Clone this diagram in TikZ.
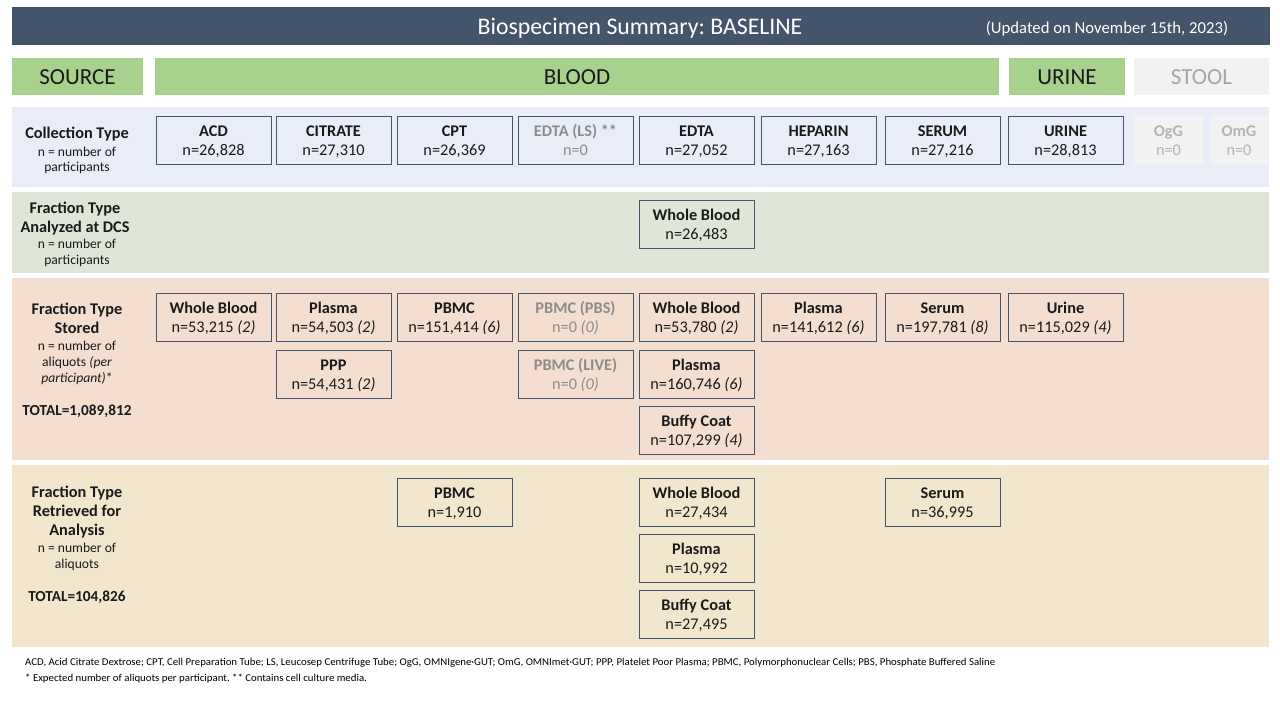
\documentclass[tikz,border=0pt]{standalone}
\usepackage{fontspec}
\setmainfont{Carlito}
\frenchspacing
\definecolor{slate}{HTML}{44546A}
\definecolor{hgreen}{HTML}{A9D18E}
\definecolor{stoolbg}{HTML}{F2F2F2}
\definecolor{stooltxt}{HTML}{A6A6A6}
\definecolor{rowA}{HTML}{E9EDF7}
\definecolor{rowB}{HTML}{DFE6D8}
\definecolor{rowC}{HTML}{F4DED0}
\definecolor{rowD}{HTML}{F2E7CC}
\definecolor{txtgray}{HTML}{8C8C8C}
\definecolor{ltgray}{HTML}{B4B4B4}
\definecolor{ink}{HTML}{1A1A1A}
\newsavebox\footA
\newsavebox\footB
\newlength\footW
\newcommand\bx[2]{\rule{0pt}{15pt}\textbf{#1}\\#2\rule[-4pt]{0pt}{4pt}}
\begin{document}
\frenchspacing
\sbox\footA{\fontsize{10.5}{12}\selectfont ACD, Acid Citrate Dextrose; CPT, Cell Preparation Tube; LS, Leucosep Centrifuge Tube; OgG, OMNIgene·GUT; OmG, OMNImet·GUT; PPP, Platelet Poor Plasma; PBMC, Polymorphonuclear Cells; PBS, Phosphate Buffered Saline}%
\sbox\footB{\fontsize{10.5}{12}\selectfont * Expected number of aliquots per participant. ** Contains cell culture media.}%
\setlength\footW{\wd\footA}%
\begin{tikzpicture}[x=1pt,y=-1pt,
  band/.style={draw=none,inner sep=0pt,outer sep=0pt},
  hdr/.style={fill=hgreen,inner sep=0pt,font=\fontsize{23}{26}\selectfont,text=ink,text height=18pt,text depth=1.4pt},
  cbox/.style={draw=slate,line width=0.9pt,minimum width=115pt,minimum height=48pt,align=center,inner sep=0pt,text=ink,font=\fontsize{16.3}{19}\selectfont},
  gbox/.style={cbox,text=txtgray},
  sbox/.style={fill=stoolbg,draw=none,minimum height=48pt,align=center,inner sep=0pt,text=ltgray,font=\fontsize{16.3}{19}\selectfont},
  lb/.style={anchor=mid,font=\bfseries\fontsize{16.3}{19}\selectfont,text=ink,inner sep=0pt},
  ls/.style={anchor=mid,font=\fontsize{13.6}{16}\selectfont,text=ink,inner sep=0pt},
  lt/.style={anchor=mid,font=\bfseries\fontsize{15.3}{18}\selectfont,text=ink,inner sep=0pt},
  foot/.style={anchor=west,inner sep=0pt,text=ink}
]
\useasboundingbox (0,0) rectangle (1280,720);
\fill[white] (0,0) rectangle (1280,720);

% title bar
\node[band,fill=slate,minimum width=1258pt,minimum height=38pt] (title) at (641,26) {};
\node[text=white,font=\fontsize{23.8}{27}\selectfont,inner sep=0pt] (titletxt) at (640,28) {Biospecimen Summary: BASELINE};
\node[text=white,font=\fontsize{16.7}{19}\selectfont,inner sep=0pt] (upd) at (1107,28.5) {(Updated on November 15th, 2023)};

% header row
\node[hdr,minimum width=131pt,minimum height=37pt] (src) at (77.5,76.5) {SOURCE};
\node[hdr,minimum width=844pt,minimum height=37pt] (blood) at (577,76.5) {BLOOD};
\node[hdr,minimum width=116pt,minimum height=37pt] (urine) at (1067,76.5) {URINE};
\node[hdr,fill=stoolbg,minimum width=135pt,minimum height=37pt,text=stooltxt] (stool) at (1201.5,76.5) {STOOL};

% bands
\node[band,fill=rowA,minimum width=1257pt,minimum height=80pt] (bandA) at (640.5,147) {};
\node[band,fill=rowB,minimum width=1257pt,minimum height=81pt] (bandB) at (640.5,232.5) {};
\node[band,fill=rowC,minimum width=1257pt,minimum height=182pt] (bandC) at (640.5,369) {};
\node[band,fill=rowD,minimum width=1257pt,minimum height=182pt] (bandD) at (640.5,556) {};

% left labels
\node[lb] (la1) at (77,136) {Collection Type};
\node[ls] (la2) at (77,154) {n = number of};
\node[ls] (la3) at (77,169) {participants};

\node[lb] (lb1) at (75,211) {Fraction Type};
\node[lb] (lb2) at (75,230) {Analyzed at DCS};
\node[ls] (lb3) at (77,246) {n = number of};
\node[ls] (lb4) at (77,262) {participants};

\node[lb] (lc1) at (77,312) {Fraction Type};
\node[lb] (lc2) at (77,331) {Stored};
\node[ls] (lc3) at (77,348) {n = number of};
\node[ls] (lc4) at (77,364) {aliquots \textit{(per}};
\node[ls] (lc5) at (77,380) {\textit{participant)}*};
\node[lt] (lc6) at (77,413) {TOTAL=1,089,812};

\node[lb] (ld1) at (77,495) {Fraction Type};
\node[lb] (ld2) at (77,514) {Retrieved for};
\node[lb] (ld3) at (77,533) {Analysis};
\node[ls] (ld4) at (77,550) {n = number of};
\node[ls] (ld5) at (77,566) {aliquots};
\node[lt] (ld6) at (77,599) {TOTAL=104,826};

% row 1: collection type
\node[cbox] (acd) at (213.5,140) {\bx{ACD}{n=26,828}};
\node[cbox] (cit) at (333.5,140) {\bx{CITRATE}{n=27,310}};
\node[cbox] (cpt) at (454.5,140) {\bx{CPT}{n=26,369}};
\node[gbox] (edtals) at (575.5,140) {\bx{EDTA (LS) **}{n=0}};
\node[cbox] (edta) at (696.5,140) {\bx{EDTA}{n=27,052}};
\node[cbox] (hep) at (818.5,140) {\bx{HEPARIN}{n=27,163}};
\node[cbox] (ser) at (942.5,140) {\bx{SERUM}{n=27,216}};
\node[cbox] (uri) at (1065.5,140) {\bx{URINE}{n=28,813}};
\node[sbox,minimum width=69pt] (ogg) at (1168.5,140) {\bx{OgG}{n=0}};
\node[sbox,minimum width=58pt] (omg) at (1239,140) {\bx{OmG}{n=0}};

% row 2: analyzed at DCS
\node[cbox] (dcswb) at (696.5,224) {\bx{Whole Blood}{n=26,483}};

% row 3: stored
\node[cbox] (swb1) at (213.5,317) {\bx{Whole Blood}{n=53,215 \textit{(2)}}};
\node[cbox] (spl1) at (333.5,317) {\bx{Plasma}{n=54,503 \textit{(2)}}};
\node[cbox] (sppp) at (333.5,374) {\bx{PPP}{n=54,431 \textit{(2)}}};
\node[cbox] (spbmc) at (454.5,317) {\bx{PBMC}{n=151,414 \textit{(6)}}};
\node[gbox] (spbs) at (575.5,317) {\bx{PBMC (PBS)}{n=0 \textit{(0)}}};
\node[gbox] (slive) at (575.5,374) {\bx{PBMC (LIVE)}{n=0 \textit{(0)}}};
\node[cbox] (swb2) at (696.5,317) {\bx{Whole Blood}{n=53,780 \textit{(2)}}};
\node[cbox] (spl2) at (696.5,374) {\bx{Plasma}{n=160,746 \textit{(6)}}};
\node[cbox] (sbuf) at (696.5,430) {\bx{Buffy Coat}{n=107,299 \textit{(4)}}};
\node[cbox] (spl3) at (818.5,317) {\bx{Plasma}{n=141,612 \textit{(6)}}};
\node[cbox] (sser) at (942.5,317) {\bx{Serum}{n=197,781 \textit{(8)}}};
\node[cbox] (suri) at (1065.5,317) {\bx{Urine}{n=115,029 \textit{(4)}}};

% row 4: retrieved
\node[cbox] (rpbmc) at (454.5,502) {\bx{PBMC}{n=1,910}};
\node[cbox] (rwb) at (696.5,502) {\bx{Whole Blood}{n=27,434}};
\node[cbox] (rpl) at (696.5,558) {\bx{Plasma}{n=10,992}};
\node[cbox] (rbuf) at (696.5,614.5) {\bx{Buffy Coat}{n=27,495}};
\node[cbox] (rser) at (942.5,502) {\bx{Serum}{n=36,995}};

% footer
\pgfmathsetmacro\fsc{970/\footW}
\node[foot] (fa) at (25,663) {\scalebox{\fsc}[1]{\usebox\footA}};
\node[foot] (fb) at (25,679) {\scalebox{\fsc}[1]{\usebox\footB}};
\end{tikzpicture}
\end{document}
